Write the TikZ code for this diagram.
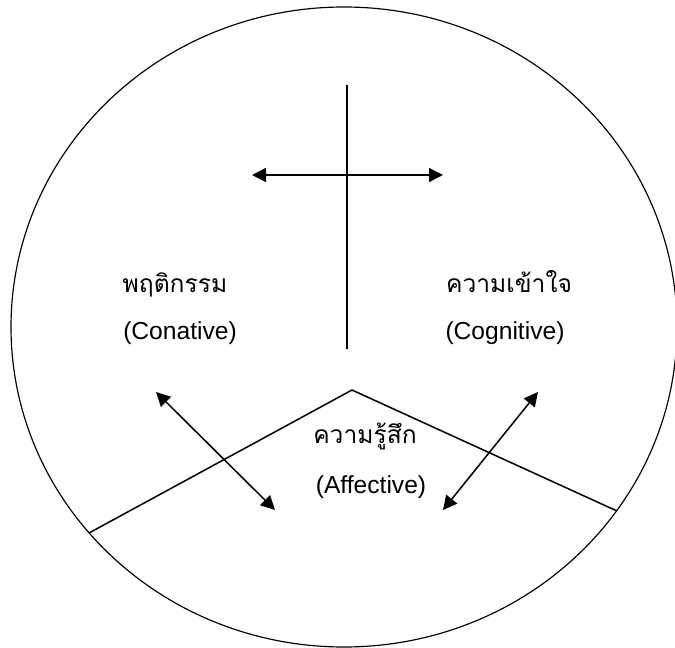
\documentclass[tikz,border=0pt]{standalone}
\usepackage{fontspec}
\setsansfont{Liberation Sans}
\newfontfamily\thaifont[Script=Thai]{Loma}
\usetikzlibrary{arrows.meta}

\begin{document}
\begin{tikzpicture}[
  x=0.03cm, y=-0.03cm,
  thailabel/.style={font=\thaifont\fontsize{21}{25}\selectfont, inner sep=0pt, anchor=base},
  englabel/.style={font=\sffamily\fontsize{21}{25}\selectfont, inner sep=0pt, anchor=base},
  rule/.style={line width=1.3pt},
  arrow/.style={rule, {Triangle[length=4.2mm,width=4.2mm]}-{Triangle[length=4.2mm,width=4.2mm]}},
]
\useasboundingbox (0,0) rectangle (675,648);

% ===== Outer circle =====
\draw[line width=1pt] (344,327) ellipse [x radius=333, y radius=320];

% ===== Upper cross =====
\coordinate (vtop) at (347,85);
\coordinate (vbot) at (347,349);
\coordinate (hleft) at (252,175);
\coordinate (hright) at (443,175);
\draw[rule] (vtop) -- (vbot);
\draw[arrow] (hleft) -- (hright);

% ===== Roof separating the affective part =====
\coordinate (roofl) at (89,533);
\coordinate (apex) at (352,390);
\coordinate (roofr) at (617,511);
\draw[rule] (roofl) -- (apex) -- (roofr);

% ===== Labels =====
\node[thailabel] (conth) at (175,292) {พฤติกรรม};
\node[englabel] (conen) at (180,339) {(Conative)};
\node[thailabel] (cogth) at (509,292) {ความเข้าใจ};
\node[englabel] (cogen) at (505,339) {(Cognitive)};
\node[thailabel] (affth) at (365,443) {ความรู้สึก};
\node[englabel] (affen) at (371,493) {(Affective)};

% ===== Links between the parts =====
\coordinate (conend) at (156,392);
\coordinate (affl) at (275,510);
\coordinate (cogend) at (538,392);
\coordinate (affr) at (443,510);
\draw[arrow] (conend) -- (affl);
\draw[arrow] (cogend) -- (affr);

\end{tikzpicture}
\end{document}
